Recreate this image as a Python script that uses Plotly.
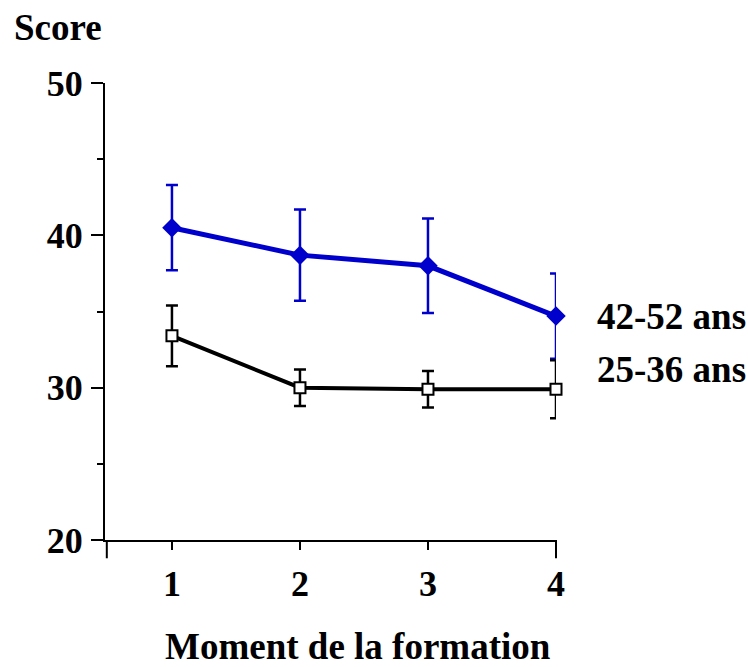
import plotly.graph_objects as go

moments = [1, 2, 3, 4]
tick_labels = ["1", "2", "3", "4"]

old_name = "42-52 ans"
old_mean = [40.5, 38.7, 38.0, 34.7]
old_err = [2.8, 3.0, 3.1, 2.8]

young_name = "25-36 ans"
young_mean = [33.4, 30.0, 29.9, 29.9]
young_err = [2.0, 1.2, 1.2, 1.9]

y_ticks = [20, 30, 40, 50]
y_minor = [25, 35, 45]

FONT = "Liberation Serif"
BLUE = "#0000CC"

fig = go.Figure()
fig.add_trace(go.Scatter(
    x=moments, y=old_mean, name=old_name, mode="lines+markers",
    line=dict(color=BLUE, width=5),
    marker=dict(symbol="diamond", size=15, color=BLUE),
    error_y=dict(type="data", array=old_err, color=BLUE, thickness=2.5, width=6),
    cliponaxis=False,
))
fig.add_trace(go.Scatter(
    x=moments, y=young_mean, name=young_name, mode="lines+markers",
    line=dict(color="black", width=4),
    marker=dict(symbol="square", size=11, color="white", line=dict(color="black", width=2)),
    error_y=dict(type="data", array=young_err, color="black", thickness=2.5, width=6),
    cliponaxis=False,
))

fig.update_layout(
    width=748, height=667,
    margin=dict(l=105, r=192, t=83, b=127),
    paper_bgcolor="white", plot_bgcolor="white",
    showlegend=False,
    font=dict(family=FONT, color="black"),
    xaxis=dict(
        range=[0.477, 4.0], tickvals=moments, ticktext=tick_labels,
        showline=True, linecolor="black", linewidth=2,
        ticks="outside", ticklen=8, tickwidth=2, tickcolor="black",
        showgrid=False, zeroline=False,
        tickfont=dict(family=FONT, size=36, color="black", weight="bold"),
        ticklabelstandoff=3,
    ),
    yaxis=dict(
        range=[20, 50], tickvals=y_ticks,
        showline=True, linecolor="black", linewidth=2,
        ticks="outside", ticklen=12, tickwidth=2, tickcolor="black",
        minor=dict(tickvals=y_minor, ticks="outside", ticklen=6, tickwidth=2, tickcolor="black"),
        showgrid=False, zeroline=False,
        tickfont=dict(family=FONT, size=36, color="black", weight="bold"),
        ticklabelstandoff=1,
    ),
    annotations=[
        dict(text="<b>Score</b>", x=-0.104, y=1.1225, xref="paper", yref="paper",
             xanchor="center", yanchor="middle",
             showarrow=False, font=dict(family=FONT, size=37, color="black")),
        dict(text="<b>" + old_name + "</b>", x=1.086, y=0.49, xref="paper", yref="paper",
             xanchor="left", yanchor="middle",
             showarrow=False, font=dict(family=FONT, size=37, color="black")),
        dict(text="<b>" + young_name + "</b>", x=1.086, y=0.372, xref="paper", yref="paper",
             xanchor="left", yanchor="middle",
             showarrow=False, font=dict(family=FONT, size=37, color="black")),
        dict(text="<b>Moment de la formation</b>", x=(358 - 105) / 451, y=-0.234,
             xref="paper", yref="paper", xanchor="center", yanchor="middle",
             showarrow=False, font=dict(family=FONT, size=37, color="black")),
    ],
    shapes=[
        dict(type="line", xref="paper", yref="paper", x0=-0.027, x1=0, y0=0, y1=0,
             line=dict(color="black", width=2)),
        dict(type="line", xref="paper", yref="paper", x0=0.004, x1=0.004, y0=0, y1=-0.04,
             line=dict(color="black", width=2)),
        dict(type="line", xref="paper", yref="paper", x0=1.0, x1=1.0, y0=0, y1=-0.04,
             line=dict(color="black", width=2)),
    ],
)

fig.write_html("out.html")
